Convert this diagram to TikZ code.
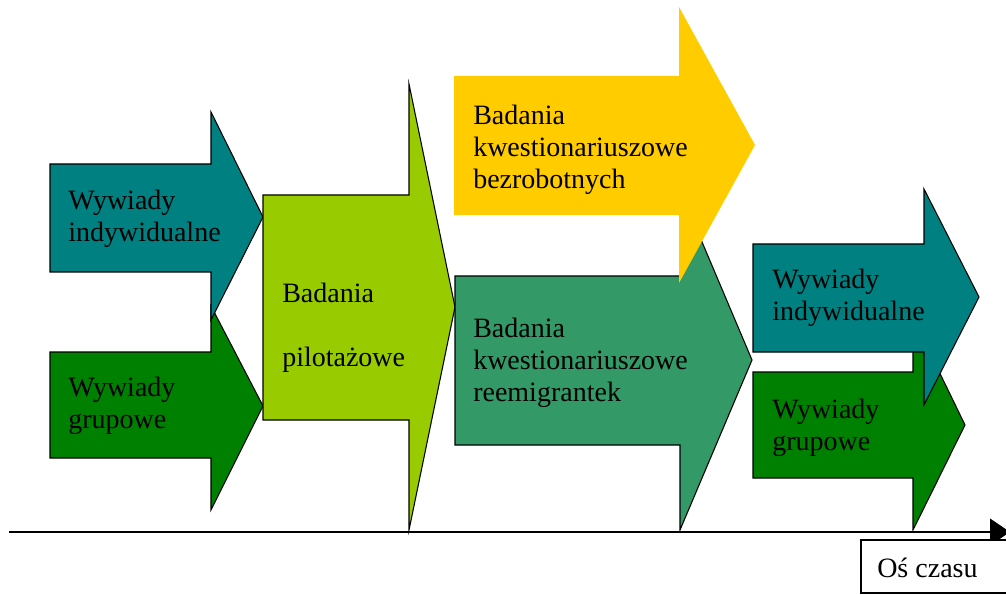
\documentclass[tikz,border=0pt]{standalone}
\usepackage{fontspec}
\setmainfont{Liberation Serif}
\definecolor{interviewteal}{RGB}{0, 128, 128}
\definecolor{groupgreen}{RGB}{0, 128, 0}
\definecolor{pilotgreen}{RGB}{153, 204, 0}
\definecolor{surveyyellow}{RGB}{255, 204, 0}
\definecolor{surveygreen}{RGB}{51, 153, 102}
\usetikzlibrary{arrows.meta}

\begin{document}
\begin{tikzpicture}[x=0.75pt, y=-0.75pt,
  stagearrow/.style={draw=black, line width=0.8pt, line join=miter},
  stagetext/.style={anchor=base west, align=left, inner sep=0pt, font=\fontsize{21}{24}\selectfont}]
  \useasboundingbox (0,0) rectangle (1006,595);

  % Left column - interviews
  \filldraw[stagearrow, fill=groupgreen] (50,352) -- (211,352) -- (211,306) -- (263,406) -- (211,510) -- (211,458) -- (50,458) -- cycle;
  \filldraw[stagearrow, fill=interviewteal] (50,164) -- (211,164) -- (211,112) -- (263,217) -- (211,320) -- (211,272) -- (50,272) -- cycle;
  \node[stagetext] (leftindiv) at (68,242) {Wywiady\\indywidualne};
  \node[stagetext] (leftgroup) at (68,428) {Wywiady\\grupowe};

  % Pilot study
  \filldraw[stagearrow, fill=pilotgreen] (263,195) -- (409,195) -- (409,84) -- (455,307) -- (409,530) -- (409,420) -- (263,420) -- cycle;
  \node[stagetext] (pilot) at (282,366) {Badania\\[24pt]pilotażowe};

  % Questionnaire surveys
  \filldraw[stagearrow, fill=surveygreen] (455,276) -- (680,276) -- (680,190) -- (752,360) -- (680,530) -- (680,445) -- (455,445) -- cycle;
  \fill[surveyyellow] (454,76) -- (679,76) -- (679,7) -- (755,145) -- (679,283) -- (679,215) -- (454,215) -- cycle;
  \node[stagetext] (unemployed) at (473,189) {Badania\\kwestionariuszowe\\bezrobotnych};
  \node[stagetext] (remigrants) at (473,401) {Badania\\kwestionariuszowe\\reemigrantek};

  % Right column - interviews again
  \filldraw[stagearrow, fill=groupgreen] (753,372) -- (913,372) -- (913,318) -- (965,425) -- (913,530) -- (913,478) -- (753,478) -- cycle;
  \filldraw[stagearrow, fill=interviewteal] (753,244) -- (924,244) -- (924,189) -- (979,297) -- (924,405) -- (924,352) -- (753,352) -- cycle;
  \node[stagetext] (rightindiv) at (772,320) {Wywiady\\indywidualne};
  \node[stagetext] (rightgroup) at (772,450) {Wywiady\\grupowe};

  % Time axis
  \coordinate (axisstart) at (9,532);
  \coordinate (axisend) at (1010,532);
  \draw[line width=1.5pt, -{Triangle[length=15pt, width=20pt]}] (axisstart) -- (axisend);
  \draw[line width=0.8pt, fill=white] (861,540) rectangle (1014,593);
  \node[stagetext] (timelabel) at (877,577) {Oś czasu};
\end{tikzpicture}
\end{document}
